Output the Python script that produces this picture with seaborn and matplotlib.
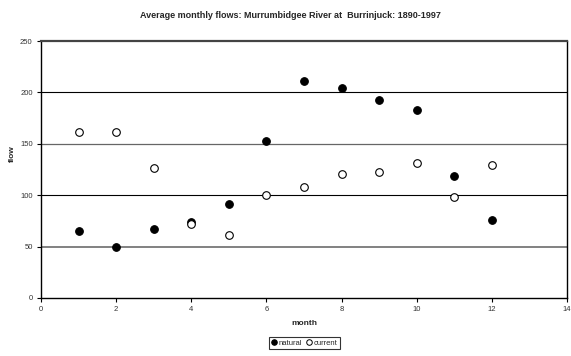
import numpy as np
import pandas as pd
import matplotlib
matplotlib.use("Agg")
import matplotlib.pyplot as plt
import seaborn as sns
from matplotlib.lines import Line2D

months = [1, 2, 3, 4, 5, 6, 7, 8, 9, 10, 11, 12]
natural = [65, 50, 67, 74, 91, 153, 211, 204, 193, 183, 119, 76]
current = [161, 161, 126, 72, 61, 100, 108, 121, 123, 131, 98, 129]
x_ticks = [0, 2, 4, 6, 8, 10, 12, 14]
y_ticks = [0, 50, 100, 150, 200, 250]

df = pd.DataFrame({
    "month": months * 2,
    "flow": natural + current,
    "series": ["natural"] * len(months) + ["current"] * len(months),
})

sns.set_theme(style="white")
plt.rcParams["font.family"] = ["Liberation Sans", "DejaVu Sans"]

fig = plt.figure(figsize=(5.71, 3.56), dpi=100)
ax = fig.add_axes([41 / 571, 1 - 298 / 356, (567 - 41) / 571, (298 - 41) / 356])

# horizontal gridlines behind the points
grid_style = {50: ("#777777", 1.3), 100: ("black", 0.8),
              150: ("#666666", 0.9), 200: ("black", 0.8)}
for yv in y_ticks[1:-1]:
    col, lw = grid_style[yv]
    ax.axhline(yv, color=col, lw=lw, zorder=0)

sns.scatterplot(data=df[df.series == "natural"], x="month", y="flow", ax=ax,
                color="black", edgecolor="black", s=30, linewidth=0.8,
                legend=False, zorder=3)
sns.scatterplot(data=df[df.series == "current"], x="month", y="flow", ax=ax,
                color="white", edgecolor="black", s=30, linewidth=0.8,
                legend=False, zorder=3)

ax.set_xlim(0, 14)
ax.set_ylim(0, 250)
ax.set_xticks(x_ticks)
ax.set_yticks(y_ticks)
ax.tick_params(axis="both", labelsize=5.5, colors="black", length=3, width=0.8,
               direction="out", pad=3, bottom=True, left=True)
ax.tick_params(axis="x", labelcolor="#333333")
ax.tick_params(axis="y", labelcolor="#333333")
for side in ["left", "bottom", "right"]:
    ax.spines[side].set_color("black")
    ax.spines[side].set_linewidth(1.0)
ax.spines["top"].set_color("#444444")
ax.spines["top"].set_linewidth(1.6)

ax.set_xlabel("month", fontsize=6, fontweight="bold", labelpad=5)
ax.set_ylabel("flow", fontsize=6, fontweight="bold", labelpad=4)
ax.yaxis.set_label_coords(-0.047, 0.56)

fig.text(0.508, 1 - 15 / 356, "Average monthly flows: Murrumbidgee River at  Burrinjuck: 1890-1997",
         ha="center", va="center", fontsize=6.5, fontweight="bold")

handles = [
    Line2D([], [], marker="o", ls="", markerfacecolor="black", markeredgecolor="black",
           markersize=4, markeredgewidth=0.7),
    Line2D([], [], marker="o", ls="", markerfacecolor="white", markeredgecolor="black",
           markersize=4, markeredgewidth=0.7),
]
leg = fig.legend(handles, ["natural", "current"], loc="center",
                 bbox_to_anchor=(304.5 / 571, 1 - 343 / 356), ncol=2,
                 fontsize=5.5, frameon=True, fancybox=False, handlelength=0.6,
                 handletextpad=0.35, columnspacing=0.6, borderpad=0.3,
                 borderaxespad=0)
leg.get_frame().set_edgecolor("black")
leg.get_frame().set_linewidth(0.8)

fig.savefig("out.png", dpi=100)
